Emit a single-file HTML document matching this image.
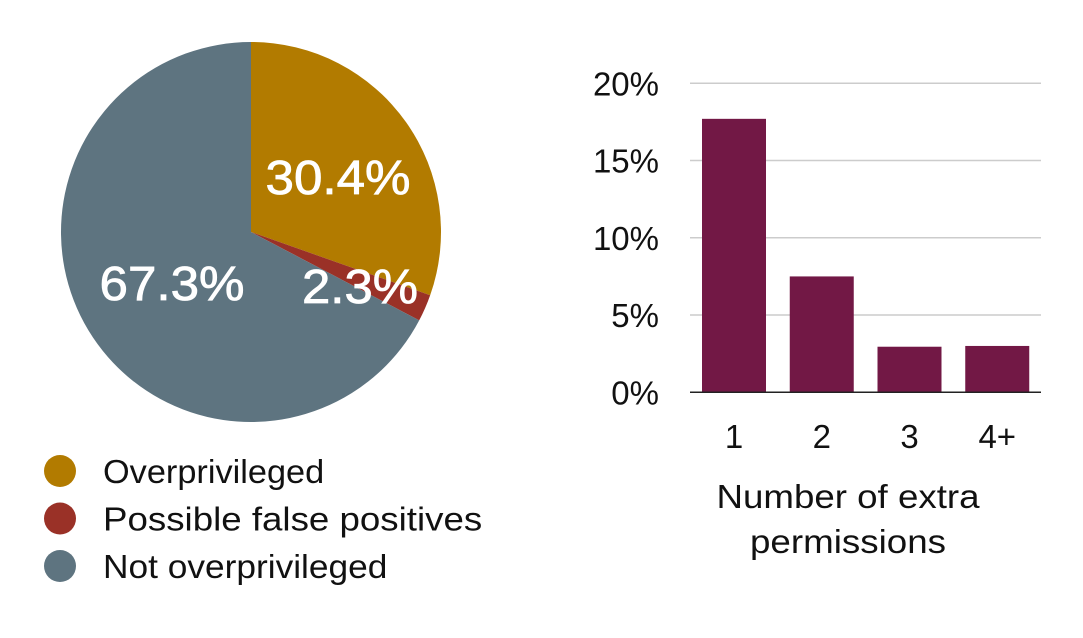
<!DOCTYPE html>
<html><head><meta charset="utf-8"><style>
body{margin:0;background:#fff;width:1083px;height:633px;overflow:hidden;font-family:"Liberation Sans",sans-serif}
</style></head><body>
<svg width="1083" height="633">
<g id="pie"></g>
<g id="legend"></g>
<g id="bar"></g>
</svg>
<script>
const pieLabels=["Overprivileged","Possible false positives","Not overprivileged"];
const pieValues=[30.4,2.3,67.3];
const pieColors=["#B27B00","#9A3127","#5E7480"];
const barCategories=["1","2","3","4+"];
const barValues=[17.7,7.5,2.95,3.0];
const yTicks=[0,5,10,15,20];
const NS="http://www.w3.org/2000/svg";
function mk(p,t,a,txt){const e=document.createElementNS(NS,t);for(const k in a)e.setAttribute(k,a[k]);if(txt!==undefined)e.textContent=txt;p.appendChild(e);return e;}
// pie
const pie=document.getElementById('pie');
const cx=251,cy=232,r=190;
const total=pieValues.reduce((a,b)=>a+b,0);
let ang=0;
const labelPos=[[338,177],[360,286],[172,283]];
pieValues.forEach((v,i)=>{
 const a0=ang,a1=ang+v/total*2*Math.PI;ang=a1;
 const x0=cx+r*Math.sin(a0),y0=cy-r*Math.cos(a0),x1=cx+r*Math.sin(a1),y1=cy-r*Math.cos(a1);
 const s=mk(pie,'path',{d:`M${cx},${cy}L${x0},${y0}A${r},${r} 0 ${a1-a0>Math.PI?1:0} 1 ${x1},${y1}Z`,fill:pieColors[i]});
 
 
});
pieValues.forEach((v,i)=>{
 const txt=v.toFixed(1)+'%';
 const t=mk(pie,'text',{x:labelPos[i][0],y:labelPos[i][1]+17,'text-anchor':'middle','font-size':48,fill:'#fff',stroke:'#fff','stroke-width':0.8,textLength:txt.length*29,lengthAdjust:'spacingAndGlyphs'},txt);
 
 
});
const lg=document.getElementById('legend');
pieLabels.forEach((l,i)=>{
 const y=471+i*47.5;
 const c=mk(lg,'circle',{cx:60,cy:y,r:16,fill:pieColors[i]});
 
 
 const t=mk(lg,'text',{x:103,y:y+12,'font-size':33,fill:'#111',textLength:l.length*15.8,lengthAdjust:'spacingAndGlyphs'},l);
 
 
});
// bar
const bar=document.getElementById('bar');
const x0=690,x1=1041,yb=392.3,yt=83.3,ymax=20;
const Y=v=>yb-(v/ymax)*(yb-yt);
const band=(x1-x0)/barCategories.length;
yTicks.forEach(t=>{
 if(t>0){const g=mk(bar,'line',{x1:x0,x2:x1,y1:Y(t),y2:Y(t),stroke:'#ccc','stroke-width':1.5});
 
 }
 const l=mk(bar,'text',{x:659,y:Y(t)+12,'text-anchor':'end','font-size':33,fill:'#111'},t+'%');
 
 
});
barValues.forEach((v,i)=>{
 const bx=x0+band*i+12;
 const b=mk(bar,'rect',{x:bx,y:Y(v),width:64,height:yb-Y(v),fill:'#721845'});
 
 
 const t=mk(bar,'text',{x:bx+32,y:448,'text-anchor':'middle','font-size':33,fill:'#111'},barCategories[i]);
 
 
});
const ax=mk(bar,'line',{x1:x0,x2:x1,y1:yb,y2:yb,stroke:'#222','stroke-width':1.5});


const t1=mk(bar,'text',{x:848,y:508,'text-anchor':'middle','font-size':33,fill:'#111',textLength:263,lengthAdjust:'spacingAndGlyphs'},'Number of extra');


const t2=mk(bar,'text',{x:848,y:553,'text-anchor':'middle','font-size':33,fill:'#111',textLength:196,lengthAdjust:'spacingAndGlyphs'},'permissions');


</script>
</body></html>
